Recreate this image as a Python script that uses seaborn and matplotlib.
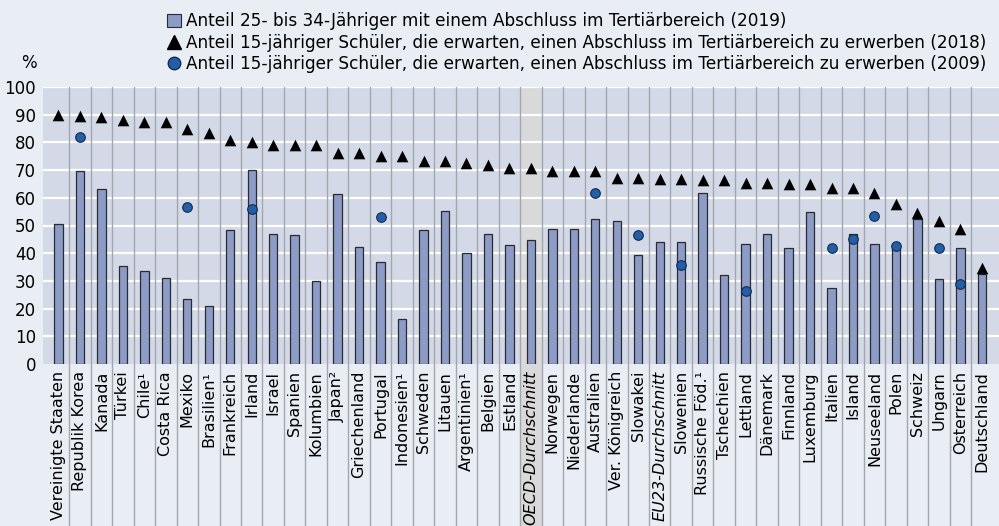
import numpy as np
import pandas as pd
import seaborn as sns
import matplotlib.pyplot as plt
from matplotlib.lines import Line2D
from matplotlib.patches import Patch
import matplotlib.transforms as mtransforms

# data
countries = [
    'Vereinigte Staaten', 'Republik Korea', 'Kanada', 'Türkei', 'Chile¹',
    'Costa Rica', 'Mexiko', 'Brasilien¹', 'Frankreich', 'Irland', 'Israel',
    'Spanien', 'Kolumbien', 'Japan²', 'Griechenland', 'Portugal',
    'Indonesien¹', 'Schweden', 'Litauen', 'Argentinien¹', 'Belgien',
    'Estland', 'OECD-Durchschnitt', 'Norwegen', 'Niederlande', 'Australien',
    'Ver. Königreich', 'Slowakei', 'EU23-Durchschnitt', 'Slowenien',
    'Russische Föd.¹', 'Tschechien', 'Lettland', 'Dänemark', 'Finnland',
    'Luxemburg', 'Italien', 'Island', 'Neuseeland', 'Polen', 'Schweiz',
    'Ungarn', 'Österreich', 'Deutschland',
]
tertiary_2019 = [
    50.6, 69.5, 63.0, 35.2, 33.4, 31.1, 23.5, 21.1, 48.2, 70.0, 47.0,
    46.5, 29.9, 61.2, 42.4, 37.0, 16.4, 48.2, 55.3, 40.0, 47.1, 43.0,
    44.6, 48.8, 48.8, 52.4, 51.8, 39.4, 44.1, 44.1, 61.7, 32.3, 43.5,
    47.0, 41.7, 54.7, 27.6, 47.0, 43.5, 41.7, 52.3, 30.6, 41.7, 32.4,
]
expect_2018 = [
    90.0, 89.6, 89.0, 88.0, 87.3, 87.2, 85.0, 83.3, 80.7, 80.2, 79.0,
    79.0, 79.0, 76.3, 76.2, 75.0, 75.0, 73.2, 73.2, 72.7, 71.9, 70.8,
    70.8, 69.8, 69.8, 69.8, 67.3, 67.3, 66.9, 66.9, 66.3, 66.3, 65.5,
    65.5, 64.9, 64.9, 63.4, 63.4, 61.9, 57.8, 54.5, 51.8, 48.9, 34.8,
]
expect_2009 = [
    None, 81.8, None, None, None, None, 56.5, None, None, 55.9, None,
    None, None, None, None, 53.0, None, None, None, None, None, None,
    None, None, None, 61.7, None, 46.5, None, 35.9, None, None, 26.5,
    None, None, None, 41.8, 45.3, 53.6, 42.5, None, 41.8, 28.9, None,
]
italic_labels = ['OECD-Durchschnitt', 'EU23-Durchschnitt']
highlight = 'OECD-Durchschnitt'

legend_labels = [
    'Anteil 25- bis 34-Jähriger mit einem Abschluss im Tertiärbereich (2019)',
    'Anteil 15-jähriger Schüler, die erwarten, einen Abschluss im Tertiärbereich zu erwerben (2018)',
    'Anteil 15-jähriger Schüler, die erwarten, einen Abschluss im Tertiärbereich zu erwerben (2009)',
]

df = pd.DataFrame({
    'land': countries,
    'pos': np.arange(len(countries)),
    'abschluss': tertiary_2019,
    'erwartung_2018': expect_2018,
    'erwartung_2009': pd.to_numeric(pd.Series(expect_2009), errors='coerce'),
})

# colours
fig_bg = '#e9edf4'
ax_bg = '#d3d9e7'
bar_col = '#8c9cc8'
dot_col = '#1f5fb0'
sep_col = '#a3a6ad'

sns.set_style('white')
plt.rcParams['font.family'] = ['DejaVu Sans']
plt.rcParams['text.color'] = 'black'
plt.rcParams['xtick.color'] = 'black'
plt.rcParams['ytick.color'] = 'black'

fig = plt.figure(figsize=(9.99, 5.26), dpi=100, facecolor=fig_bg)
ax = fig.add_axes([43 / 999, 1 - 364 / 526, 1 - 43 / 999, 277 / 526])
ax.set_facecolor(ax_bg)

sns.barplot(data=df, x='pos', y='abschluss', color=bar_col, width=0.39,
            edgecolor='#2b2b2b', linewidth=0.9, saturation=1, ax=ax,
            native_scale=True, zorder=3)
sns.scatterplot(data=df, x='pos', y='erwartung_2018', marker='^', s=70,
                color='black', edgecolor='black', linewidth=0, ax=ax, zorder=5)
sns.scatterplot(data=df, x='pos', y='erwartung_2009', marker='o', s=48,
                color=dot_col, edgecolor='#1a2a40', linewidth=0.8, ax=ax, zorder=6)

n = len(countries)
ax.set_xlim(-0.72, n - 1 + 0.8)
ax.set_ylim(0, 100)
ax.set_yticks(range(0, 101, 10))
for y in range(10, 101, 10):
    ax.axhline(y, color='white', lw=1.6, zorder=1)

# separators and highlighted column reaching down into the label area
trans = mtransforms.blended_transform_factory(ax.transData, ax.transAxes)
ymin = -163 / 277
for i in range(n - 1):
    ax.plot([i + 0.5, i + 0.5], [ymin, 1], transform=trans, color=sep_col,
            lw=1, clip_on=False, zorder=2)
hi = countries.index(highlight)
ax.axvspan(hi - 0.5, hi + 0.5, ymin=ymin, ymax=1, color='#d9d9d9',
           clip_on=False, zorder=0.3, lw=0)

ax.set_xticks(range(n))
ax.set_xticklabels(countries, rotation=90, ha='center', va='top')
for lab in ax.get_xticklabels():
    if lab.get_text() in italic_labels:
        lab.set_style('italic')
ax.tick_params(axis='x', length=0, pad=5, labelsize=11.5)
ax.tick_params(axis='y', length=0, pad=5, labelsize=12)
ax.set_xlabel('')
ax.set_ylabel('')
for s in ax.spines.values():
    s.set_visible(False)

fig.text(29 / 999, 1 - 63 / 526, '%', ha='center', va='center', fontsize=12)

handles = [
    Patch(facecolor=bar_col, edgecolor='#2b2b2b', linewidth=0.8),
    Line2D([], [], marker='^', color='black', linestyle='none', markersize=10),
    Line2D([], [], marker='o', color=dot_col, markeredgecolor='#1a2a40',
           linestyle='none', markersize=9),
]
fig.legend(handles, legend_labels, loc='upper left',
           bbox_to_anchor=(167 / 999, 1 - 12 / 526), frameon=False,
           handlelength=0.8, handleheight=0.8, handletextpad=0.35,
           labelspacing=0.22, borderaxespad=0, borderpad=0, fontsize=12.2)

fig.savefig('out.png', dpi=100, facecolor=fig_bg)
